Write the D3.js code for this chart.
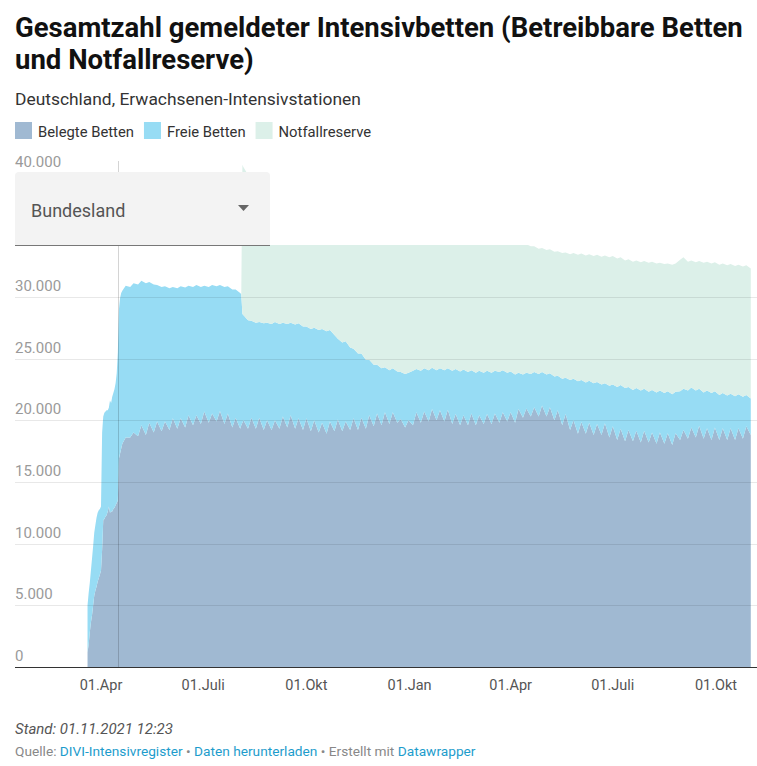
<!DOCTYPE html>
<html lang="de">
<head>
<meta charset="utf-8">
<script src="https://cdn.jsdelivr.net/npm/d3@7"></script>
<style>
  body { margin: 0; background: #fff; font-family: Roboto, sans-serif; }
  svg { display: block; }
</style>
</head>
<body>
<div id="chart"></div>
<script>
// days since 20.03.2020 (daily during ramp-up, then Mondays / Thursdays)
const startDate = "2020-03-20";
const days = [0,1,2,3,4,5,6,7,8,9,10,11,12,13,14,15,16,17,18,19,20,21,22,23,24,25,26,27,28,29,30,31,
  34,38,41,45,48,52,55,59,62,66,69,73,76,80,83,87,90,94,97,101,104,108,111,115,118,122,125,129,132,136,137,138,
  139,143,146,150,153,157,160,164,167,171,174,178,181,185,188,192,195,199,202,206,209,213,216,220,223,227,230,234,
  237,241,244,248,251,255,258,262,265,269,272,276,279,283,286,290,293,297,300,304,307,311,314,318,321,325,328,332,
  335,339,342,346,349,353,356,360,363,367,370,374,377,381,384,388,391,395,398,402,405,409,412,416,419,423,426,430,
  433,437,440,444,447,451,454,458,461,465,468,472,475,479,482,486,489,493,496,500,503,507,510,514,517,521,524,528,
  531,535,538,542,545,549,552,556,559,563,566,570,573,577,580,584,587,591];

// Belegte Betten (in 1.000)
const belegt = [1.2,1.8,2.8,3.6,4.2,5.0,5.8,6.2,6.5,6.9,7.2,7.5,7.8,9.5,11.9,12.0,12.2,12.3,12.6,13.0,12.5,12.6,12.6,12.8,12.9,13.1,13.3,13.5,16.9,17.3,17.7,18.1,
  18.6,18.6,19.0,18.7,19.6,18.8,19.8,19.0,19.9,19.1,19.9,19.2,20.15,19.3,20.15,19.4,20.4,19.6,20.4,19.7,20.7,19.8,20.55,19.9,20.75,19.7,20.55,19.4,20.2,19.3,19.6,19.8,
  20.0,19.3,20.2,19.3,20.2,19.2,20.0,19.2,20.0,19.3,20.3,19.4,20.4,19.3,20.15,19.2,20.15,19.1,20.0,19.0,19.8,18.9,19.9,19.1,20.05,19.1,19.9,19.2,
  20.15,19.2,20.2,19.3,20.4,19.5,20.55,19.6,20.65,19.7,20.65,19.8,20.1,19.4,20.0,19.6,20.65,19.8,20.7,19.9,20.9,20.0,20.8,19.9,20.85,19.7,20.5,19.6,
  20.4,19.6,20.55,19.6,20.4,19.7,20.5,19.7,20.55,19.8,20.65,19.9,20.65,19.8,20.9,20.2,20.95,20.3,21.05,20.3,21.2,20.3,21.05,20.0,20.8,19.6,20.5,19.2,
  20.0,18.9,19.85,18.9,19.8,18.8,19.7,18.8,19.75,18.6,19.5,18.4,19.3,18.3,19.2,18.3,19.15,18.2,19.15,18.2,19.0,18.1,19.0,18.1,18.95,18.0,18.95,18.4,
  19.2,18.5,19.4,18.6,19.55,18.5,19.35,18.4,19.4,18.4,19.35,18.4,19.35,18.4,19.35,18.5,19.5,18.8];

// Betreibbare Betten = belegt + frei (in 1.000)
const betreibbar = [5.0,6.0,6.8,7.8,8.8,9.8,10.9,11.5,12.1,12.5,12.7,12.8,13.0,19.0,20.3,20.6,20.7,20.8,20.8,21.0,21.6,21.4,21.9,22.2,22.5,23.0,23.8,25.5,29.0,29.9,30.3,30.5,
  30.9,30.8,31.1,31.0,31.3,31.1,31.2,31.0,30.95,30.8,30.85,30.7,30.8,30.7,30.85,30.75,30.9,30.8,30.95,30.8,30.9,30.8,30.95,30.85,30.95,30.8,30.85,30.6,30.6,30.3,30.2,28.6,
  28.5,28.1,28.05,27.9,27.95,27.85,27.9,27.8,27.95,27.8,27.9,27.8,27.9,27.75,27.85,27.6,27.6,27.4,27.5,27.3,27.4,27.2,27.3,26.9,26.6,26.3,26.4,25.9,
  25.8,25.4,25.4,24.9,24.9,24.5,24.5,24.2,24.3,24.05,24.2,23.95,23.9,23.75,23.85,24.0,24.15,24.0,24.2,24.05,24.25,24.05,24.2,24.05,24.2,24.0,24.15,23.95,
  24.1,23.9,24.05,23.85,24.0,23.85,24.0,23.85,24.0,23.9,24.05,23.85,23.95,23.7,23.85,23.7,23.85,23.75,23.9,23.75,23.9,23.7,23.8,23.55,23.6,23.35,23.45,23.25,
  23.35,23.15,23.25,23.05,23.2,23.0,23.1,22.9,23.0,22.8,22.9,22.7,22.85,22.6,22.7,22.45,22.6,22.4,22.55,22.3,22.45,22.25,22.4,22.2,22.35,22.1,22.3,22.35,
  22.55,22.4,22.65,22.4,22.55,22.25,22.4,22.2,22.35,22.05,22.2,22.0,22.15,21.95,22.1,21.9,22.05,21.75];

// Gesamt = betreibbar + Notfallreserve (in 1.000), reported from day 137 on
const reserveFromDay = 137;
const gesamt = [30.2,40.7,
  40.5,39.9,39.7,39.5,39.4,39.3,39.2,39.0,39.0,38.9,38.8,38.7,38.6,38.5,38.4,38.3,38.2,38.0,37.9,37.7,37.6,37.5,37.4,37.2,37.0,36.8,36.7,36.5,
  36.4,36.2,36.1,35.9,35.8,35.7,35.6,35.5,35.5,35.4,35.4,35.3,35.3,35.2,35.2,35.2,35.2,35.1,35.1,35.1,35.0,35.0,35.0,34.9,34.9,34.9,34.8,34.8,
  34.8,34.7,34.7,34.7,34.6,34.6,34.6,34.5,34.5,34.5,34.5,34.4,34.4,34.35,34.3,34.25,34.25,34.1,34.1,33.9,33.95,33.8,33.85,33.65,33.7,33.55,33.6,33.45,
  33.55,33.4,33.5,33.35,33.45,33.3,33.4,33.25,33.35,33.2,33.3,33.1,33.2,32.95,33.05,32.85,32.95,32.8,32.9,32.75,32.85,32.7,32.75,32.65,32.7,32.6,32.7,33.0,
  33.2,32.85,32.95,32.8,32.9,32.75,32.85,32.7,32.8,32.6,32.7,32.55,32.65,32.5,32.6,32.45,32.55,32.3];

const keys = ["belegt", "frei", "notfall"];
const seriesNames = ["Belegte Betten", "Freie Betten", "Notfallreserve"];
const colors = ["#a0b9d2", "#97dcf4", "#dcf0e9"];

const xTicks = ["2020-04-01", "2020-07-01", "2020-10-01", "2021-01-01", "2021-04-01", "2021-07-01", "2021-10-01"];
const xTickLabels = ["01.Apr", "01.Juli", "01.Okt", "01.Jan", "01.Apr", "01.Juli", "01.Okt"];
const yTicks = [0, 5000, 10000, 15000, 20000, 25000, 30000, 40000]; // 35.000 sits under the dropdown
const markerDate = "2020-04-16"; // Meldepflicht

const width = 757, height = 766;
const left = 15, right = 757;

const svg = d3.select("#chart")
  .append("svg")
  .attr("width", width)
  .attr("height", height);

const parse = d3.utcParse("%Y-%m-%d");
const t0 = parse(startDate);
const reserveIndex = days.indexOf(reserveFromDay);

let rows = days.map((d, i) => {
  let j = i - reserveIndex;
  let total = j >= 0 ? gesamt[j] : betreibbar[i];
  return {
    date: d3.utcDay.offset(t0, d),
    belegt: belegt[i] * 1000,
    frei: (betreibbar[i] - belegt[i]) * 1000,
    notfall: (total - betreibbar[i]) * 1000
  };
});

let x = d3.scaleUtc()
  .domain([parse("2020-04-01"), parse("2021-10-01")])
  .range([101, 716]);

let y = d3.scaleLinear()
  .domain([0, 40000])
  .range([667, 173.4]);

let de = d3.formatLocale({ decimal: ",", thousands: ".", grouping: [3], currency: ["", " €"] });
let fmt = de.format(",");

// areas
let stacked = d3.stack().keys(keys)(rows);
let area = d3.area()
  .x(d => x(d.data.date))
  .y0(d => y(d[0]))
  .y1(d => y(d[1]));

svg.append("g")
  .selectAll("path")
  .data(stacked)
  .join("path")
  .attr("fill", (d, i) => colors[i])
  .attr("d", area);

// grid on top of the areas
svg.append("g")
  .selectAll("line")
  .data(yTicks.filter(t => t > 0))
  .join("line")
  .attr("x1", left)
  .attr("x2", right)
  .attr("y1", d => Math.round(y(d)) + 0.5)
  .attr("y2", d => Math.round(y(d)) + 0.5)
  .attr("stroke", "#000")
  .attr("stroke-opacity", 0.09);

// marker line
svg.append("line")
  .attr("x1", Math.round(x(parse(markerDate))) + 0.5)
  .attr("x2", Math.round(x(parse(markerDate))) + 0.5)
  .attr("y1", 161)
  .attr("y2", y(0))
  .attr("stroke", "#000")
  .attr("stroke-opacity", 0.17);

// baseline
svg.append("line")
  .attr("x1", left)
  .attr("x2", right)
  .attr("y1", Math.round(y(0)) + 0.5)
  .attr("y2", Math.round(y(0)) + 0.5)
  .attr("stroke", "#333");

// y labels
svg.append("g")
  .selectAll("text")
  .data(yTicks)
  .join("text")
  .attr("x", left)
  .attr("y", d => y(d) - 6)
  .attr("font-size", 15)
  .attr("fill", "#9a9a9a")
  .text(d => fmt(d));

// x labels
svg.append("g")
  .selectAll("text")
  .data(xTicks)
  .join("text")
  .attr("x", d => x(parse(d)))
  .attr("y", 690)
  .attr("text-anchor", "middle")
  .attr("font-size", 14.5)
  .attr("fill", "#555")
  .text((d, i) => xTickLabels[i]);

// dropdown (covers the upper plot band)
svg.append("rect")
  .attr("x", 0).attr("y", 172)
  .attr("width", width).attr("height", 73)
  .attr("fill", "#fff");

svg.append("path")
  .attr("d", "M15,245 V176 Q15,172 19,172 H266 Q270,172 270,176 V245 Z")
  .attr("fill", "#f3f3f3");

svg.append("line")
  .attr("x1", 15).attr("x2", 270)
  .attr("y1", 245.5).attr("y2", 245.5)
  .attr("stroke", "#777");

svg.append("text")
  .attr("x", 31).attr("y", 217)
  .attr("font-size", 18)
  .attr("fill", "#555")
  .text("Bundesland");

svg.append("path")
  .attr("d", "M238,205 L249,205 L243.5,211 Z")
  .attr("fill", "#666");

// title, subtitle
svg.append("text")
  .attr("x", 15)
  .attr("font-size", 27.5)
  .attr("font-weight", 700)
  .attr("fill", "#111")
  .selectAll("tspan")
  .data(["Gesamtzahl gemeldeter Intensivbetten (Betreibbare Betten", "und Notfallreserve)"])
  .join("tspan")
  .attr("x", 15)
  .attr("y", (d, i) => 37 + i * 32)
  .text(d => d);

svg.append("text")
  .attr("x", 15).attr("y", 105)
  .attr("font-size", 17.4)
  .attr("fill", "#333")
  .text("Deutschland, Erwachsenen-Intensivstationen");

// legend
let lx = 15;
seriesNames.forEach((name, i) => {
  svg.append("rect")
    .attr("x", lx).attr("y", 122)
    .attr("width", 17).attr("height", 17)
    .attr("fill", colors[i]);
  let t = svg.append("text")
    .attr("x", lx + 23).attr("y", 137)
    .attr("font-size", 14.8)
    .attr("fill", "#333")
    .text(name);
  lx += 23 + t.node().getComputedTextLength() + 10;
});

// footer
svg.append("text")
  .attr("x", 15).attr("y", 734)
  .attr("font-size", 15)
  .attr("font-style", "italic")
  .attr("fill", "#555")
  .text("Stand: 01.11.2021 12:23");

let src = svg.append("text")
  .attr("x", 15).attr("y", 756)
  .attr("font-size", 13.7)
  .attr("fill", "#888");
[["Quelle: ", "#888"], ["DIVI-Intensivregister", "#1d9ccc"], [" • ", "#888"],
 ["Daten herunterladen", "#1d9ccc"], [" • Erstellt mit ", "#888"], ["Datawrapper", "#1d9ccc"]]
  .forEach(([s, c]) => src.append("tspan").attr("fill", c).text(s));
</script>
</body>
</html>
